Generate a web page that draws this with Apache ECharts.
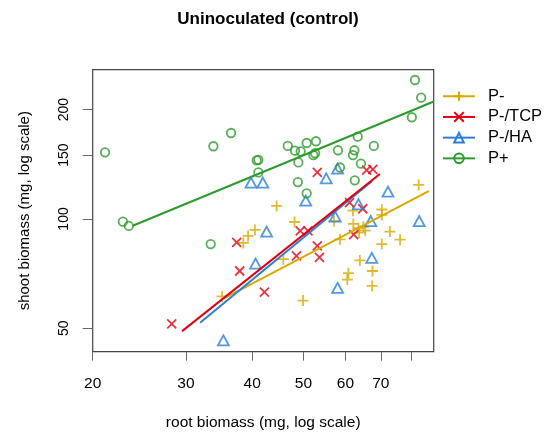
<!DOCTYPE html>
<html>
<head>
<meta charset="utf-8">
<script src="https://cdn.jsdelivr.net/npm/echarts@6/dist/echarts.min.js"></script>
<style>html,body{margin:0;padding:0;background:#fff}#c{width:547px;height:437px}</style>
</head>
<body>
<div id="c"></div>
<script>
// ---- data (root biomass mg, shoot biomass mg) ----
const xTicks = [20, 30, 40, 50, 60, 70, 80];
const xTickLabels = [20, 30, 40, 50, 60, 70];   // R drops the crowded "80" label
const yTicks = [50, 100, 150, 200];
const groups = ['P-', 'P-/TCP', 'P-/HA', 'P+'];

const ptsPminus = [[35.1,61.2],[38.5,85.9],[39.3,89.8],[40.5,93.3],[44.5,108.6],[45.8,77.5],[48.1,98.1],[49.9,59.6],[57.1,98.7],[58.6,87.9],[62.0,105.4],[62.1,96.9],[63.5,94.3],[64.9,95.2],[65.4,92.9],[63.7,91.7],[63.9,76.9],[70.3,106.2],[70.3,102.6],[72.8,92.3],[76.1,87.7],[70.3,85.3],[67.5,71.9],[60.8,70.9],[60.5,68.1],[67.4,65.4],[82.5,124.1]];
const ptsTCP = [[28.2,51.4],[37.4,86.2],[37.9,71.9],[42.2,62.9],[48.5,79.1],[49.3,92.7],[51.0,92.7],[53.1,134.3],[53.1,84.3],[53.6,78.4],[61.1,110.9],[64.7,106.7],[62.2,90.6],[65.8,136.4],[67.6,136.9]];
const ptsHA = [[39.8,126.0],[41.9,126.0],[35.3,46.3],[40.6,75.3],[42.6,92.3],[50.5,112.3],[55.2,129.4],[58.0,137.7],[63.5,109.8],[57.4,101.5],[67.0,98.7],[72.2,119.0],[82.7,98.7],[67.3,78.1],[58.0,64.6]];
const ptsPplus = [[21.1,152.6],[22.8,98.3],[23.4,95.7],[33.4,85.3],[33.8,158.6],[36.5,172.5],[40.8,145.1],[41.1,145.5],[41.1,134.3],[46.7,158.9],[48.2,154.2],[49.4,153.6],[50.7,161.9],[52.8,163.7],[52.2,150.0],[52.6,151.7],[48.9,143.1],[48.8,126.4],[50.7,117.7],[58.1,154.6],[62.4,154.6],[62.0,150.0],[64.2,142.0],[58.6,138.6],[62.5,127.8],[63.3,168.5],[67.9,158.9],[80.1,190.6],[81.2,241.4],[83.4,215.8]];

// fitted lines as drawn (endpoints)
const linePminus = [[35.4,60.4],[86.2,119.3]];
const lineTCP = [[29.5,49.1],[69.7,133.0]];
const lineHA = [[31.9,51.8],[67.4,127.2]];
const linePplus = [[23.8,95.8],[88.1,210.6]];

const colors = {'P-':'#D7AA00','P-/TCP':'#E00012','P-/HA':'#2B7FD4','P+':'#2E9A2E'};
const symbols = {
  'P-':'path://M0,5L10,5M5,0L5,10',
  'P-/TCP':'path://M0,0L10,10M10,0L0,10',
  'P-/HA':'triangle',
  'P+':'circle'
};
const sizes = {'P-':11,'P-/TCP':9,'P-/HA':[11,10],'P+':8.5};

const L = Math.log;
const tr = a => a.map(p => [L(p[0]), L(p[1])]);
const font = 'Liberation Sans, Arial, Helvetica, sans-serif';

function scatter(name, pts) {
  return {
    type:'scatter', name: name + ' points', data: tr(pts),
    symbol: symbols[name], symbolSize: sizes[name],
    itemStyle:{color:'rgba(0,0,0,0)', borderColor: colors[name], borderWidth: 1.8},
    silent:true, z:2
  };
}
function fit(name, pts) {
  return {
    type:'line', name: name, data: tr(pts),
    symbol: symbols[name], showSymbol:false,
    lineStyle:{color: colors[name], width: 2},
    itemStyle:{color:'rgba(0,0,0,0)', borderColor: colors[name], borderWidth: 2},
    silent:true, z:3, animation:false
  };
}

const chart = echarts.init(document.getElementById('c'), null, {renderer:'canvas'});
chart.setOption({
  animation:false,
  backgroundColor:'#fff',
  title:{text:'Uninoculated (control)', left:263, top:6, textAlign:'center',
    textStyle:{fontFamily:font, fontWeight:'bold', fontSize:17, color:'#000'}},
  grid:{left:92.7, top:69.7, width:341, height:282, show:true, borderColor:'#444', borderWidth:1.2, backgroundColor:'transparent'},
  legend:{
    orient:'vertical', left:442, top:86, padding:0, itemGap:0.2,
    itemWidth:32, itemHeight:12,
    textStyle:{fontFamily:font, fontSize:16.5, color:'#000', lineHeight:20.5, padding:[0,0,0,8]},
    data: groups.map(g => ({name:g, itemStyle:{color:'rgba(0,0,0,0)', borderColor:colors[g], borderWidth:2}, lineStyle:{color:colors[g], width:2}})),
    selectedMode:false
  },
  xAxis:{
    type:'value', min:L(20), max:L(88.08),
    name:'root biomass (mg, log scale)', nameLocation:'middle', nameGap:63,
    nameTextStyle:{fontFamily:font, fontSize:15.5, color:'#000'},
    axisLine:{show:false}, splitLine:{show:false},
    axisTick:{show:true, length:9, lineStyle:{color:'#666', width:1}, customValues: xTicks.map(L)},
    axisLabel:{fontFamily:font, fontSize:15.5, color:'#000', margin:24, customValues: xTickLabels.map(L),
      formatter: v => String(Math.round(Math.exp(v)))}
  },
  yAxis:{
    type:'value', min:L(43.1), max:L(257.7),
    name:'shoot biomass (mg, log scale)', nameLocation:'middle', nameGap:60,
    nameTextStyle:{fontFamily:font, fontSize:15, color:'#000'},
    axisLine:{show:false}, splitLine:{show:false},
    axisTick:{show:true, length:10, lineStyle:{color:'#666', width:1}, customValues: yTicks.map(L)},
    axisLabel:{fontFamily:font, fontSize:14, color:'#000', margin:22, rotate:90, customValues: yTicks.map(L),
      formatter: v => String(Math.round(Math.exp(v)))}
  },
  series:[
    scatter('P-', ptsPminus), scatter('P-/TCP', ptsTCP), scatter('P-/HA', ptsHA), scatter('P+', ptsPplus),
    fit('P-', linePminus), fit('P-/HA', lineHA), fit('P-/TCP', lineTCP), fit('P+', linePplus)
  ]
});
</script>
</body>
</html>
